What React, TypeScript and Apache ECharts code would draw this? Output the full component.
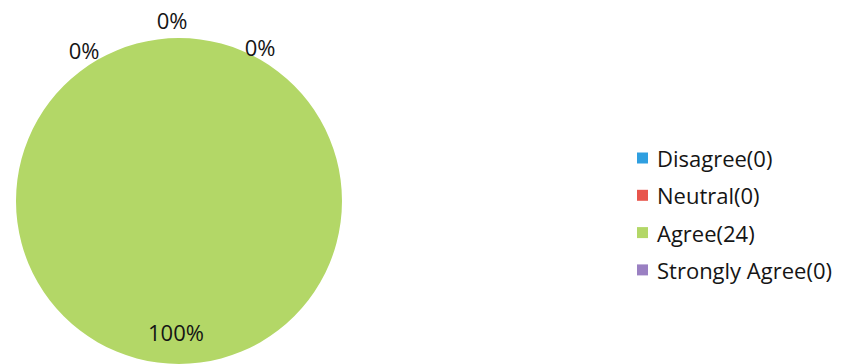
import React, { useEffect, useRef } from "react";
import * as echarts from "echarts";

const categories = ["Disagree", "Neutral", "Agree", "Strongly Agree"];
const counts = [0, 0, 24, 0];
const colors = ["#2f9fe0", "#e8554c", "#b3d767", "#9a80c2"];

// label anchor points (pixel positions in the chart), by category
const labelSpots: Record<string, [number, number]> = {
  Disagree: [84, 50],
  Neutral: [172, 20],
  Agree: [176, 332],
  "Strongly Agree": [260, 47],
};

export default function App() {
  const ref = useRef<HTMLDivElement>(null);
  useEffect(() => {
    if (!ref.current) return;
    const chart = echarts.init(ref.current, undefined, { renderer: "svg" });
    const total = counts.reduce((a, b) => a + b, 0);
    chart.setOption({
      animation: false,
      backgroundColor: "#ffffff",
      legend: {
        orient: "vertical",
        left: 637,
        top: 146,
        padding: 0,
        itemWidth: 11,
        itemHeight: 11,
        itemGap: 13.3,
        icon: "rect",
        data: categories,
        formatter: (name: string) => {
          const i = categories.indexOf(name);
          return `${name}(${counts[i]})`;
        },
        textStyle: {
          fontFamily: "Open Sans",
          fontSize: 22,
          lineHeight: 24,
          color: "#151515",
          padding: [0, 0, 0, 4],
        },
      },
      series: [
        {
          type: "pie",
          center: [179, 201],
          radius: 163,
          startAngle: 90,
          clockwise: true,
          stillShowZeroSum: true,
          minShowLabelAngle: 0,
          avoidLabelOverlap: false,
          data: categories.map((c, i) => ({
            name: c,
            value: counts[i],
            itemStyle: { color: colors[i] },
          })),
          label: {
            show: true,
            position: "inside",
            formatter: (p: any) =>
              `${Math.round((p.value / (total || 1)) * 100)}%`,
            fontFamily: "Open Sans",
            fontSize: 22,
            color: "#151515",
          },
          labelLine: { show: false },
          labelLayout: (params: any) => {
            const name = categories[params.dataIndex];
            const spot = labelSpots[name];
            return {
              x: spot[0],
              y: spot[1],
              align: "center",
              verticalAlign: "middle",
            };
          },
          emphasis: { disabled: true },
        },
      ],
    });
    return () => chart.dispose();
  }, []);
  return (
    <div
      ref={ref}
      style={{ position: "fixed", left: 0, top: 0, width: 855, height: 364 }}
    />
  );
}
